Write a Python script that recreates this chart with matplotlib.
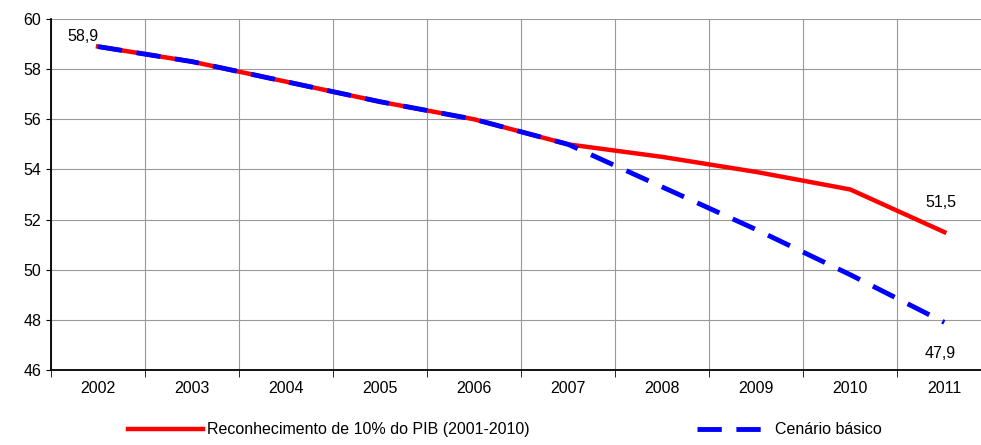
import matplotlib
matplotlib.use("Agg")
import matplotlib.pyplot as plt

anos = ["2002", "2003", "2004", "2005", "2006", "2007", "2008", "2009", "2010", "2011"]
reconhecimento = [58.9, 58.3, 57.5, 56.7, 56.0, 55.0, 54.5, 53.9, 53.2, 51.5]
basico = [58.9, 58.3, 57.5, 56.7, 56.0, 55.0, 53.3, 51.6, 49.8, 47.9]

plt.rcParams["font.family"] = ["Liberation Sans", "DejaVu Sans"]
fig = plt.figure(figsize=(9.81, 4.45), dpi=100)
ax = fig.add_axes([51 / 981, 1 - 370 / 445, 930 / 981, 351 / 445])
x = list(range(len(anos)))
l1, = ax.plot(x, reconhecimento, color="#ff0000", lw=3.2, zorder=3)
l2, = ax.plot(x, basico, color="#0000ff", lw=3.5, dashes=(5, 3), zorder=4)

ax.set_yticks(range(46, 61, 2))
ax.set_xticks(x)
ax.set_xticklabels(anos)
ax.set_xticks([i + 0.5 for i in range(-1, 10)], minor=True)
ax.set_xlim(-0.5, 9.39)
ax.set_ylim(46, 60)
ax.grid(True, which="minor", axis="x", color="#999999", lw=0.8)
ax.grid(True, which="major", axis="y", color="#999999", lw=0.8)
ax.tick_params(axis="x", which="major", length=0, pad=8)
ax.tick_params(axis="x", which="minor", length=5, direction="out")
ax.tick_params(labelsize=11.5)
for s in ["left", "bottom"]:
    ax.spines[s].set_linewidth(1.3)
for s in ["top", "right"]:
    ax.spines[s].set_visible(False)

ax.annotate("58,9", (0, reconhecimento[0]), xytext=(-22, 4), textcoords="offset points", fontsize=11.5)
ax.annotate("51,5", (9, reconhecimento[-1]), xytext=(-14, 18), textcoords="offset points", fontsize=11.5)
ax.annotate("47,9", (9, basico[-1]), xytext=(-14, -26), textcoords="offset points", fontsize=11.5)

fig.legend([l1, l2], ["Reconhecimento de 10% do PIB (2001-2010)", "Cenário básico"],
           loc="lower center", bbox_to_anchor=(0.515, -0.015), ncol=2, frameon=False,
           fontsize=11.5, handlelength=4.7, columnspacing=10.5, handletextpad=0.2)
fig.savefig("out.png", dpi=100)
